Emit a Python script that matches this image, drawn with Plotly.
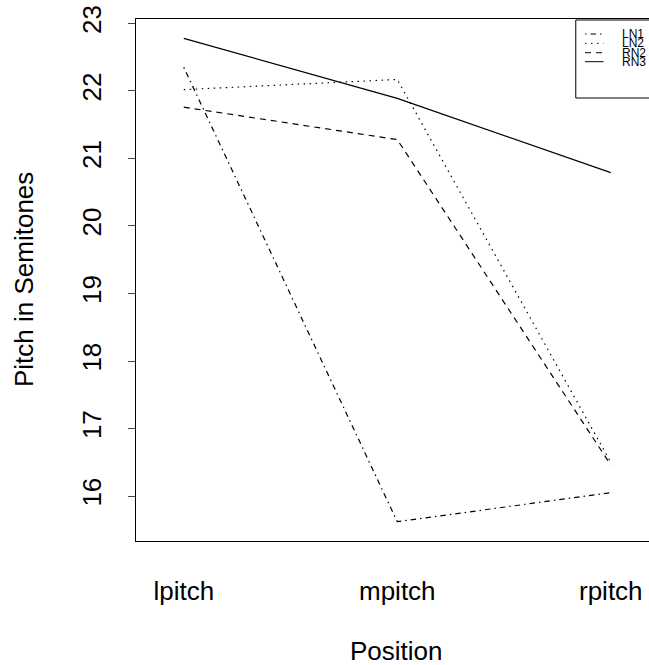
import plotly.graph_objects as go

# Mean pitch (semitones) at each position, one trace per speaker
positions = ["lpitch", "mpitch", "rpitch"]
speakers = ["LN1", "LN2", "RN2", "RN3"]
ln1 = [22.35, 15.62, 16.05]
ln2 = [22.02, 22.17, 16.50]
rn2 = [21.76, 21.28, 16.46]
rn3 = [22.78, 21.89, 20.79]
y_ticks = [16, 17, 18, 19, 20, 21, 22, 23]

series = [ln1, ln2, rn2, rn3]
dashes = ["1.5px,4px,5.5px,4px", "1.5px,4.5px", "6px,5px", "solid"]

FONT = "Liberation Sans, Arial, Helvetica, sans-serif"
W, H = 649, 665
ML, MT, MB = 135.5, 19, 124
PW = W - ML
PH = H - MT - MB

fig = go.Figure()
for name, vals, dash in zip(speakers, series, dashes):
    fig.add_trace(go.Scatter(
        x=positions, y=vals, mode="lines", name=name,
        line=dict(color="black", width=1.2, dash=dash),
        showlegend=False,
    ))


def px_x(p):
    return (p - ML) / PW


def px_y(p):
    return (H - MB - p) / PH


# Legend box, sample lines and labels
shapes = [dict(type="rect", xref="paper", yref="paper",
               x0=px_x(575.7), x1=px_x(720), y0=px_y(98), y1=px_y(20),
               line=dict(color="black", width=1), fillcolor="white", layer="above")]
annotations = []
rows = [34, 43.3, 52.7, 61.7]
for name, dash, ry in zip(speakers, dashes, rows):
    shapes.append(dict(type="line", xref="paper", yref="paper",
                       x0=px_x(585), x1=px_x(603.5), y0=px_y(ry), y1=px_y(ry),
                       line=dict(color="black", width=1, dash=dash), layer="above"))
    annotations.append(dict(text=name, xref="paper", yref="paper",
                            x=px_x(620), y=px_y(ry), xanchor="left", yanchor="middle",
                            showarrow=False, font=dict(family=FONT, size=12, color="black")))

# Axis titles
annotations.append(dict(text="Position", xref="paper", yref="paper",
                        x=px_x(396), y=px_y(651), xanchor="center", yanchor="middle",
                        showarrow=False, font=dict(family=FONT, size=26, color="black")))
annotations.append(dict(text="Pitch in Semitones", xref="paper", yref="paper",
                        x=px_x(23.4), y=px_y(280), xanchor="center", yanchor="middle",
                        textangle=-90, showarrow=False,
                        font=dict(family=FONT, size=26, color="black")))

fig.update_layout(
    width=W, height=H,
    margin=dict(l=ML, r=0, t=MT, b=MB, pad=0),
    paper_bgcolor="white", plot_bgcolor="white",
    font=dict(family=FONT, size=26, color="black"),
    shapes=shapes, annotations=annotations,
    xaxis=dict(
        type="category", categoryorder="array", categoryarray=positions,
        range=[-0.2237, 2.179], showline=True, linecolor="black", linewidth=1,
        mirror=True, ticks="", showgrid=False, zeroline=False,
        tickfont=dict(family=FONT, size=26, color="black"),
        ticklabelstandoff=27,
    ),
    yaxis=dict(
        range=[15.334, 23.066], tickvals=y_ticks, ticktext=[str(v) for v in y_ticks],
        showline=True, linecolor="black", linewidth=1, mirror=False,
        ticks="outside", ticklen=7, tickcolor="#444", tickwidth=1,
        tickangle=-90, showgrid=False, zeroline=False,
        tickfont=dict(family=FONT, size=26, color="black"),
        ticklabelstandoff=17,
    ),
)

fig.write_html("out.html")
